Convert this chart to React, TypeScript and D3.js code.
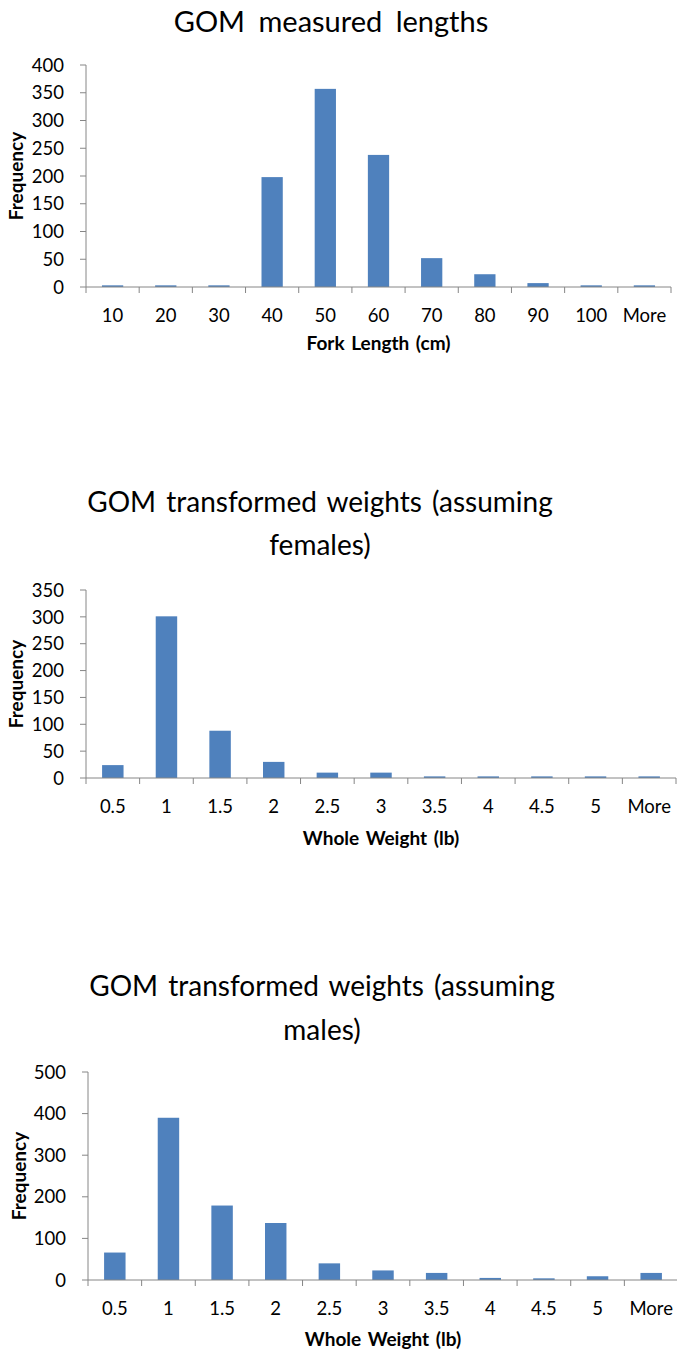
import React from "react";
import * as d3 from "d3";

// Histogram bins and counts
const lengthBins = ["10", "20", "30", "40", "50", "60", "70", "80", "90", "100", "More"];
const lengthFreq = [3, 3, 3, 198, 357, 238, 52, 23, 7, 3, 3];

const weightBins = ["0.5", "1", "1.5", "2", "2.5", "3", "3.5", "4", "4.5", "5", "More"];
const femaleFreq = [24, 301, 88, 30, 10, 10, 3, 3, 3, 3, 3];
const maleFreq = [66, 390, 179, 137, 40, 23, 17, 5, 4, 9, 17];

const lengthTicks = [0, 50, 100, 150, 200, 250, 300, 350, 400];
const femaleTicks = [0, 50, 100, 150, 200, 250, 300, 350];
const maleTicks = [0, 100, 200, 300, 400, 500];

const BAR = "#4F81BD";
const AXIS = "#868686";
const FONT = "Lato, 'Open Sans', sans-serif";

type Panel = {
  titleLines: string[];
  titleX: number;
  titleY: number[];
  titleSize: number;
  titleSpacing: number;
  xTitle: string;
  bins: string[];
  values: number[];
  ticks: number[];
  x0: number;
  x1: number;
  yZero: number;
  yTop: number;
  yTitleX: number;
  xTitleY: number;
};

const panels: Panel[] = [
  {
    titleLines: ["GOM measured lengths"],
    titleX: 331,
    titleY: [32],
    titleSize: 29,
    titleSpacing: 6,
    xTitle: "Fork Length (cm)",
    bins: lengthBins,
    values: lengthFreq,
    ticks: lengthTicks,
    x0: 86,
    x1: 671,
    yZero: 287,
    yTop: 65,
    yTitleX: 23,
    xTitleY: 350,
  },
  {
    titleLines: ["GOM transformed weights (assuming", "females)"],
    titleX: 320,
    titleY: [512, 555],
    titleSize: 28,
    titleSpacing: 3,
    xTitle: "Whole Weight (lb)",
    bins: weightBins,
    values: femaleFreq,
    ticks: femaleTicks,
    x0: 86,
    x1: 676,
    yZero: 778,
    yTop: 590,
    yTitleX: 23,
    xTitleY: 845,
  },
  {
    titleLines: ["GOM transformed weights (assuming", "males)"],
    titleX: 322,
    titleY: [996, 1040],
    titleSize: 28,
    titleSpacing: 3,
    xTitle: "Whole Weight (lb)",
    bins: weightBins,
    values: maleFreq,
    ticks: maleTicks,
    x0: 88,
    x1: 678,
    yZero: 1280,
    yTop: 1072,
    yTitleX: 26,
    xTitleY: 1346,
  },
];

function Histogram({ p }: { p: Panel }) {
  const x = d3
    .scaleBand<string>()
    .domain(p.bins)
    .range([p.x0, p.x1])
    .paddingInner(0.6)
    .paddingOuter(0.3);
  const maxTick = p.ticks[p.ticks.length - 1];
  const y = d3.scaleLinear().domain([0, maxTick]).range([p.yZero, p.yTop]);
  const step = x.step();
  const bw = x.bandwidth();
  const gap = (step - bw) / 2;
  const boundaries = p.bins.map((b) => (x(b) as number) - gap).concat([p.x1]);
  const midY = (p.yZero + p.yTop) / 2;
  const midX = (p.x0 + p.x1) / 2;

  return (
    <g>
      {p.titleLines.map((line, i) => (
        <text
          key={i}
          x={p.titleX}
          y={p.titleY[i]}
          textAnchor="middle"
          fontFamily={FONT}
          fontSize={p.titleSize}
          wordSpacing={p.titleSpacing}
          fill="#000"
        >
          {line}
        </text>
      ))}

      {p.bins.map((b, i) => (
        <rect
          key={b}
          x={x(b)}
          y={y(p.values[i])}
          width={bw}
          height={p.yZero - y(p.values[i])}
          fill={BAR}
        />
      ))}

      {/* value axis */}
      <line x1={p.x0} x2={p.x0} y1={p.yTop} y2={p.yZero} stroke={AXIS} strokeWidth={1} />
      {p.ticks.map((t) => (
        <g key={t}>
          <line x1={p.x0 - 6} x2={p.x0} y1={y(t)} y2={y(t)} stroke={AXIS} strokeWidth={1} />
          <text
            x={p.x0 - 22}
            y={y(t)}
            dy="0.36em"
            textAnchor="end"
            fontFamily={FONT}
            fontSize={18.5}
            fill="#000"
          >
            {t}
          </text>
        </g>
      ))}

      {/* category axis */}
      <line x1={p.x0} x2={p.x1} y1={p.yZero} y2={p.yZero} stroke={AXIS} strokeWidth={1} />
      {boundaries.map((bx, i) => (
        <line key={i} x1={bx} x2={bx} y1={p.yZero} y2={p.yZero + 6} stroke={AXIS} strokeWidth={1} />
      ))}
      {p.bins.map((b) => (
        <text
          key={b}
          x={(x(b) as number) + bw / 2}
          y={p.yZero + 35}
          textAnchor="middle"
          fontFamily={FONT}
          fontSize={18.5}
          fill="#000"
        >
          {b}
        </text>
      ))}

      <text
        x={midX}
        y={p.xTitleY}
        textAnchor="middle"
        fontFamily={FONT}
        fontWeight="bold"
        fontSize={19}
        wordSpacing={2}
        fill="#000"
      >
        {p.xTitle}
      </text>
      <text
        transform={`translate(${p.yTitleX},${midY}) rotate(-90)`}
        textAnchor="middle"
        fontFamily={FONT}
        fontWeight="bold"
        fontSize={19}
        fill="#000"
      >
        Frequency
      </text>
    </g>
  );
}

export default function App() {
  return (
    <svg
      width={677}
      height={1352}
      style={{ position: "absolute", left: 0, top: 0, background: "#fff" }}
    >
      <rect width={677} height={1352} fill="#fff" />
      {panels.map((p, i) => (
        <Histogram key={i} p={p} />
      ))}
    </svg>
  );
}
